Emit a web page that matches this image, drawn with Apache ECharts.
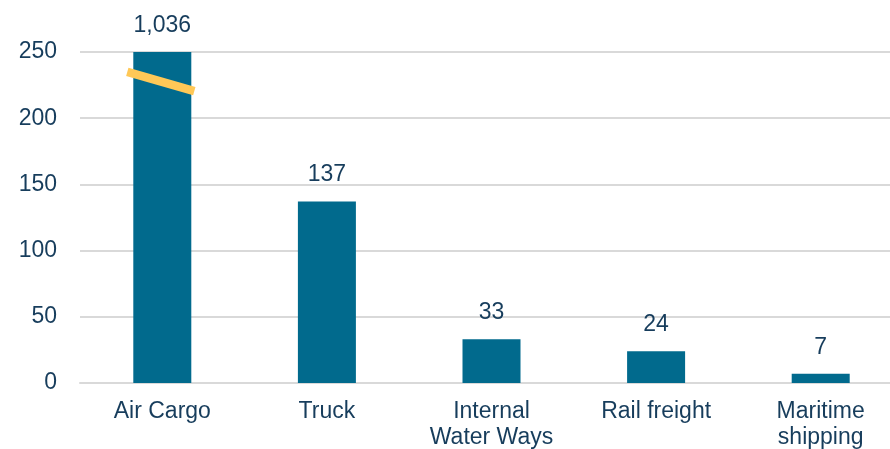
<!DOCTYPE html>
<html>
<head>
<meta charset="utf-8">
<script src="https://cdn.jsdelivr.net/npm/echarts@6/dist/echarts.min.js"></script>
<style>
  html, body { margin: 0; padding: 0; background: #fff; }
  #chart { width: 890px; height: 449px; }
</style>
</head>
<body>
<div id="chart"></div>
<script>
// Freight transport modes and their values
const categories = ['Air Cargo', 'Truck', 'Internal\nWater Ways', 'Rail freight', 'Maritime\nshipping'];
const values = [1036, 137, 33, 24, 7];
const yTicks = { min: 0, max: 250, step: 50 };
// Axis-break marker drawn across the clipped Air Cargo bar (value range it spans)
const breakMarker = { category: 'Air Cargo', yStart: 235, yEnd: 220.5 };

const textColor = '#173D5C';
const barColor = '#016A8D';
const gridColor = '#D9D9D9';
const fontFamily = '"Liberation Sans", Arial, sans-serif';
const fontSize = 23;

const chart = echarts.init(document.getElementById('chart'), null, { renderer: 'canvas' });

chart.setOption({
  animation: false,
  grid: { left: 80, right: -13, top: 52, bottom: 66, containLabel: false, outerBoundsMode: 'none' },
  xAxis: {
    type: 'category',
    data: categories,
    axisTick: { show: false },
    axisLine: { show: true, lineStyle: { color: gridColor, width: 2 } },
    axisLabel: {
      color: textColor, fontFamily, fontSize, margin: 16, lineHeight: 26,
      interval: 0
    }
  },
  yAxis: {
    type: 'value',
    min: yTicks.min,
    max: yTicks.max,
    interval: yTicks.step,
    axisLine: { show: false },
    axisTick: { show: false },
    splitLine: { lineStyle: { color: gridColor, width: 2 } },
    axisLabel: { color: textColor, fontFamily, fontSize, margin: 23 }
  },
  series: [{
    type: 'bar',
    data: values,
    barWidth: 58,
    clip: true,
    itemStyle: { color: barColor },
    label: {
      show: true,
      position: 'top',
      distance: 15,
      color: textColor,
      fontFamily,
      fontSize,
      formatter: p => p.value.toLocaleString('en-US')
    }
  }]
});

// Place the axis-break marker using the chart's own scales
const cx = chart.convertToPixel({ xAxisIndex: 0 }, breakMarker.category);
const y1 = chart.convertToPixel({ yAxisIndex: 0 }, breakMarker.yStart);
const y2 = chart.convertToPixel({ yAxisIndex: 0 }, breakMarker.yEnd);
const half = 58 / 2;
chart.setOption({
  graphic: [{
    type: 'line',
    z: 100,
    shape: { x1: cx - half - 6, y1: y1, x2: cx + half + 3, y2: y2 },
    style: { stroke: '#FFC857', lineWidth: 8.5, lineCap: 'butt' }
  }]
});
</script>
</body>
</html>
